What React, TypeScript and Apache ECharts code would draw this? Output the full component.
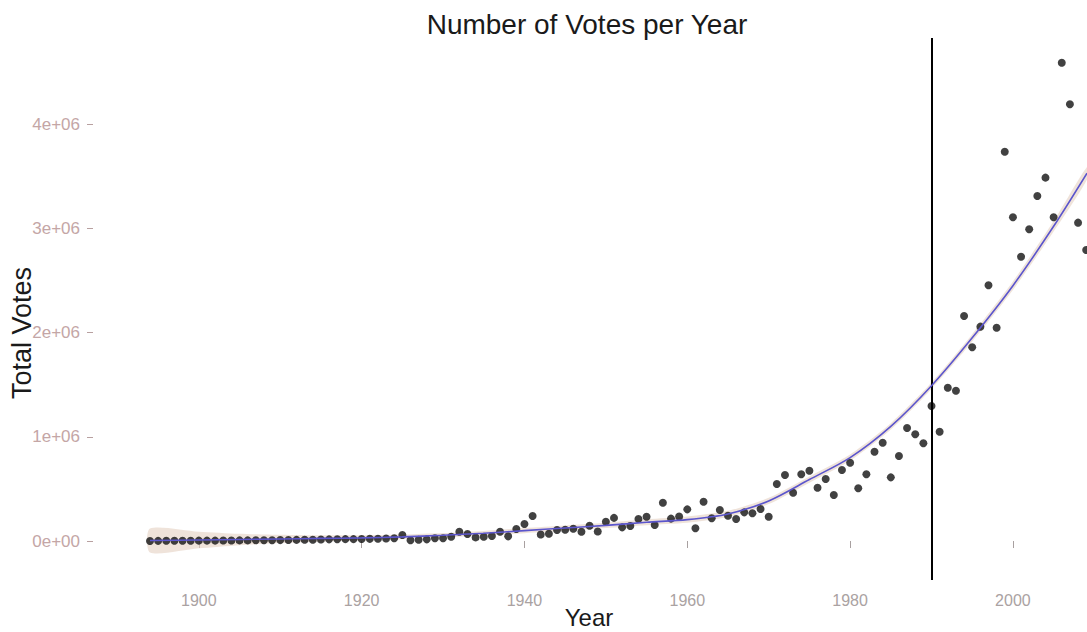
import React, { useEffect, useRef } from "react";
import * as echarts from "echarts";

const years: number[] = [
  1894, 1895, 1896, 1897, 1898, 1899, 1900, 1901, 1902, 1903, 1904, 1905, 1906, 1907, 1908, 1909,
  1910, 1911, 1912, 1913, 1914, 1915, 1916, 1917, 1918, 1919, 1920, 1921, 1922, 1923, 1924, 1925,
  1926, 1927, 1928, 1929, 1930, 1931, 1932, 1933, 1934, 1935, 1936, 1937, 1938, 1939, 1940, 1941,
  1942, 1943, 1944, 1945, 1946, 1947, 1948, 1949, 1950, 1951, 1952, 1953, 1954, 1955, 1956, 1957,
  1958, 1959, 1960, 1961, 1962, 1963, 1964, 1965, 1966, 1967, 1968, 1969, 1970, 1971, 1972, 1973,
  1974, 1975, 1976, 1977, 1978, 1979, 1980, 1981, 1982, 1983, 1984, 1985, 1986, 1987, 1988, 1989,
  1990, 1991, 1992, 1993, 1994, 1995, 1996, 1997, 1998, 1999, 2000, 2001, 2002, 2003, 2004, 2005,
  2006, 2007, 2008, 2009,
];
const votes: number[] = [
  1000, 1500, 2000, 2000, 2500, 3000, 3500, 4000, 4000, 5000, 5500, 6000, 6000, 7000, 7500, 8000,
  9000, 10000, 11000, 12000, 13000, 15000, 16000, 17000, 18000, 18000, 20000, 21000, 22000, 24000, 26000, 58000,
  8000, 12000, 16000, 26000, 26000, 41000, 89000, 67000, 35000, 41000, 48000, 89000, 45000, 115000, 163000, 240000,
  62000, 70000, 106000, 108000, 118000, 89000, 147000, 92000, 185000, 222000, 131000, 144000, 211000, 233000, 154000, 368000,
  215000, 235000, 304000, 122000, 377000, 218000, 297000, 243000, 211000, 275000, 266000, 307000, 233000, 547000, 633000, 464000,
  640000, 675000, 512000, 595000, 441000, 681000, 751000, 506000, 640000, 857000, 943000, 611000, 816000, 1084000, 1024000, 938000,
  1296000, 1049000, 1471000, 1442000, 2159000, 1859000, 2057000, 2454000, 2047000, 3736000, 3107000, 2728000, 2991000, 3311000, 3487000, 3107000,
  4590000, 4191000, 3055000, 2793000,
];

// Smoothed trend and its confidence band
const fitYears: number[] = [
  1894, 1900, 1905, 1910, 1915, 1920, 1925, 1930, 1935, 1940, 1945, 1950, 1955, 1960, 1965, 1970,
  1975, 1980, 1985, 1990, 1995, 2000, 2005, 2009.1,
];
const fitValues: number[] = [
  5000, 10000, 15000, 20000, 25000, 30000, 40000, 55000, 75000, 100000, 125000, 150000, 180000, 205000, 260000, 385000,
  590000, 800000, 1100000, 1490000, 1950000, 2450000, 3020000, 3530000,
];
const fitHalfWidth: number[] = [
  115000, 80000, 55000, 40000, 30000, 25000, 22000, 22000, 22000, 25000, 25000, 25000, 28000, 30000, 30000, 30000,
  30000, 30000, 30000, 30000, 35000, 40000, 50000, 60000,
];

const xTickValues: number[] = [1900, 1920, 1940, 1960, 1980, 2000];
const yTickValues: number[] = [0, 1000000, 2000000, 3000000, 4000000];
const yTickLabels: string[] = ["0e+00", "1e+06", "2e+06", "3e+06", "4e+06"];
const markerYear = 1990;

const FONT = "'Liberation Sans', Arial, Helvetica, sans-serif";

export default function App() {
  const ref = useRef<HTMLDivElement>(null);

  useEffect(() => {
    if (!ref.current) return;
    const chart = echarts.init(ref.current, null, { renderer: "svg" });

    const points = years.map((y, i) => [y, votes[i]]);
    const fitLine = fitYears.map((y, i) => [y, fitValues[i]]);

    chart.setOption({
      animation: false,
      backgroundColor: "#ffffff",
      grid: { left: 93, right: 0, top: 38, bottom: 52, containLabel: false },
      xAxis: {
        type: "value",
        min: 1887,
        max: 2009.1,
        axisLine: { show: false },
        splitLine: { show: false },
        axisTick: {
          show: true,
          length: 7,
          customValues: xTickValues,
          lineStyle: { color: "#a8a0a0", width: 1 },
        },
        axisLabel: {
          customValues: xTickValues,
          margin: 12,
          color: "#aaa2a2",
          fontSize: 16,
          fontFamily: FONT,
          formatter: (v: number) => String(Math.round(v)),
        },
      },
      yAxis: {
        type: "value",
        min: -374000,
        max: 4827000,
        axisLine: { show: false },
        splitLine: { show: false },
        axisTick: {
          show: true,
          length: 6,
          customValues: yTickValues,
          lineStyle: { color: "#b8a0a0", width: 1 },
        },
        axisLabel: {
          customValues: yTickValues,
          margin: 13,
          color: "#c4a6a6",
          fontSize: 17,
          fontFamily: FONT,
          formatter: (v: number) => {
            const idx = yTickValues.indexOf(v);
            return idx >= 0 ? yTickLabels[idx] : "";
          },
        },
      },
      series: [
        {
          type: "custom",
          name: "band",
          data: [0],
          silent: true,
          clip: true,
          z: 1,
          renderItem: (params: any, api: any) => {
            const upper = fitYears.map((y, i) => api.coord([y, fitValues[i] + fitHalfWidth[i]]));
            const lower = fitYears
              .map((y, i) => api.coord([y, fitValues[i] - fitHalfWidth[i]]))
              .reverse();
            return {
              type: "polygon",
              shape: { points: upper.concat(lower), smooth: 0.25 },
              style: { fill: "rgba(228, 208, 194, 0.6)", stroke: "none" },
            };
          },
        },
        {
          type: "scatter",
          name: "votes",
          data: points,
          symbol: "circle",
          symbolSize: 8,
          itemStyle: { color: "#111111" },
          clip: true,
          z: 3,
          markLine: {
            silent: true,
            symbol: ["none", "none"],
            label: { show: false },
            lineStyle: { color: "#000000", width: 2, type: "solid" },
            data: [{ xAxis: markerYear }],
          },
        },
        {
          type: "line",
          name: "fit",
          data: fitLine,
          smooth: 0.3,
          symbol: "none",
          lineStyle: { color: "#5b55cc", width: 1.6 },
          silent: true,
          z: 5,
        },
      ],
      graphic: [
        {
          type: "text",
          x: 587,
          y: 24,
          style: {
            text: "Number of Votes per Year",
            fill: "#1a1a1a",
            font: `28px ${FONT}`,
            textAlign: "center",
            textVerticalAlign: "middle",
          },
        },
        {
          type: "text",
          x: 589,
          y: 617,
          style: {
            text: "Year",
            fill: "#1a1a1a",
            font: `24px ${FONT}`,
            textAlign: "center",
            textVerticalAlign: "middle",
          },
        },
        {
          type: "text",
          x: 22,
          y: 333,
          rotation: Math.PI / 2,
          style: {
            text: "Total Votes",
            fill: "#1a1a1a",
            font: `27px ${FONT}`,
            textAlign: "center",
            textVerticalAlign: "middle",
          },
        },
      ],
    });

    return () => chart.dispose();
  }, []);

  return (
    <div
      ref={ref}
      style={{ position: "fixed", left: 0, top: 0, width: 1087, height: 632, background: "#fff" }}
    />
  );
}
